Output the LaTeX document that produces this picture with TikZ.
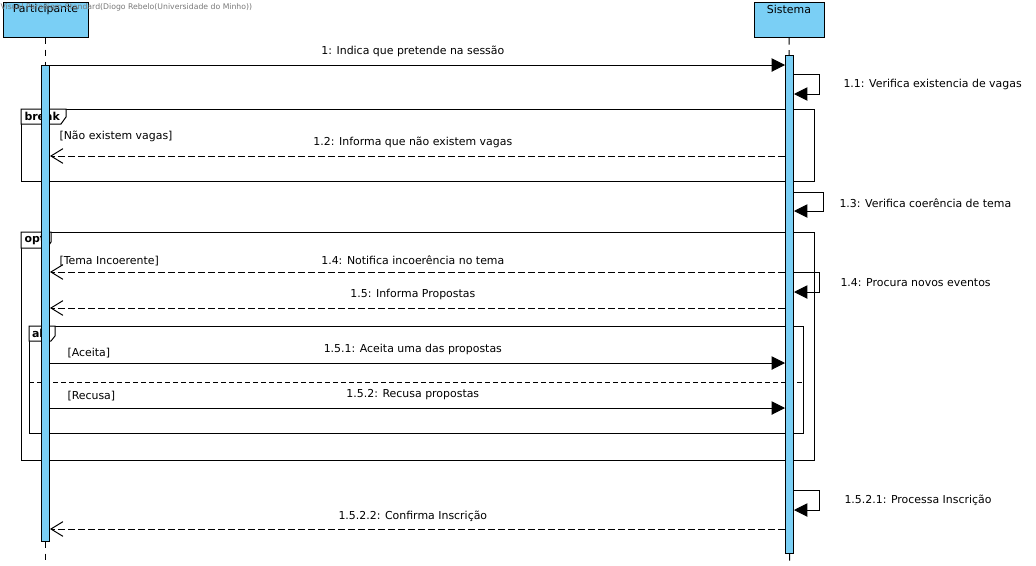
\documentclass[tikz,border=0pt]{standalone}
\usepackage{fontspec}
\setmainfont{DejaVu Sans}
\usetikzlibrary{arrows.meta, positioning}
\definecolor{actblue}{RGB}{122,207,245}
\definecolor{markgray}{RGB}{120,120,120}

\begin{document}
\begin{tikzpicture}[x=0.75pt, y=-0.75pt, font=\fontsize{8.2}{9.8}\selectfont, line width=0.75pt,
    actor/.style={draw, fill=actblue, minimum height=26.25pt, inner sep=0pt},
    actbar/.style={draw, fill=actblue, minimum width=6pt, inner sep=0pt, anchor=north},
    lifeline/.style={dash pattern=on 5pt off 4pt},
    call/.style={-{Triangle[length=10pt, width=10pt]}},
    reply/.style={dash pattern=on 5pt off 2.5pt, -{Straight Barb[length=9pt, width=11pt]}},
    msg/.style={midway, above=4.5pt, inner sep=1pt, xshift=-3.5pt},
    note/.style={anchor=west, inner sep=0pt},
    frame/.style={draw, line width=0.75pt},
    tabtext/.style={anchor=west, inner sep=0pt, font=\fontsize{8.2}{9.8}\selectfont\bfseries}]
    \useasboundingbox (0,0) rectangle (1036,565);

    % Lifelines:
    \node[actor, minimum width=63.75pt] (part) at (45.5,19.5) {};
    \node[below=1pt of part.north, inner sep=1pt] (partname) {Participante};
    \node[actor, minimum width=52.5pt] (sis) at (789,20) {};
    \node[below=1pt of sis.north, inner sep=1pt] (sisname) {Sistema};
    \coordinate (partend) at (45.5,562);
    \coordinate (sisend) at (789.5,562);
    \draw[lifeline] (part) -- (partend);
    \draw[lifeline] (sis) -- (sisend);

    % Frames:
    \draw[frame] (21,109) rectangle (814,181);
    \draw[frame, fill=white] (21,109) -| (66,117) -- (61,124) -- (21,124) -- cycle;
    \node[tabtext] (brk) at (24,116.5) {break};
    \draw[frame] (21,232) rectangle (814,460);
    \draw[frame, fill=white] (21,232) -| (51,242) -- (47,248) -- (21,248) -- cycle;
    \node[tabtext] (opt) at (24,240) {opt};
    \draw[frame] (29,326) rectangle (803,433);
    \draw[frame, fill=white] (29,326) -| (55,336) -- (51,341) -- (29,341) -- cycle;
    \node[tabtext] (alt) at (31.5,333.5) {alt};
    \draw[dash pattern=on 4pt off 2pt] (29,382) -- (803,382);

    % Activation bars:
    \node[actbar, minimum height=357pt] (pact) at (45.5,65) {};
    \node[actbar, minimum height=373.5pt] (sact) at (789.5,55) {};

    \foreach \n/\y in {m1/65, m12/156, m14/272, m15/308, m151/363, m152/408, m1522/529}{
        \coordinate (\n-p) at (pact.east |- 0,\y);
        \coordinate (\n-s) at (sact.west |- 0,\y);
    }
    \foreach \n/\ya/\yb in {s11/74/94, s13/192/211, s14/272/292, s1521/490/510}{
        \coordinate (\n-a) at (sact.east |- 0,\ya);
        \coordinate (\n-b) at (sact.east |- 0,\yb);
    }

    % Messages:
    \draw[call] (m1-p) -- (m1-s) node[msg] {1: Indica que pretende na sessão};
    \draw[call] (s11-a) -- ++(25,0) |- (s11-b);
    \node[note] (l11) at (843,84) {1.1: Verifica existencia de vagas};
    \draw[reply] (m12-s) -- (m12-p) node[msg] {1.2: Informa que não existem vagas};
    \draw[call] (s13-a) -- ++(29,0) |- (s13-b);
    \node[note] (l13) at (839,203) {1.3: Verifica coerência de tema};
    \draw[reply] (m14-s) -- (m14-p) node[msg] {1.4: Notifica incoerência no tema};
    \draw[call] (s14-a) -- ++(25,0) |- (s14-b);
    \node[note] (l14) at (840,283) {1.4: Procura novos eventos};
    \draw[reply] (m15-s) -- (m15-p) node[msg] {1.5: Informa Propostas};
    \draw[call] (m151-p) -- (m151-s) node[msg] {1.5.1: Aceita uma das propostas};
    \draw[call] (m152-p) -- (m152-s) node[msg] {1.5.2: Recusa propostas};
    \draw[call] (s1521-a) -- ++(25,0) |- (s1521-b);
    \node[note] (l1521) at (844,500) {1.5.2.1: Processa Inscrição};
    \draw[reply] (m1522-s) -- (m1522-p) node[msg] {1.5.2.2: Confirma Inscrição};

    % Guards:
    \node[note] (g12) at (59,136) {[Não existem vagas]};
    \node[note] (g14) at (59,261) {[Tema Incoerente]};
    \node[note] (g151) at (67,353) {[Aceita]};
    \node[note] (g152) at (67,396) {[Recusa]};

    \node[note, text=markgray, font=\fontsize{5.8}{7}\selectfont] (mark) at (0,7) {Visual Paradigm Standard(Diogo Rebelo(Universidade do Minho))};
\end{tikzpicture}
\end{document}
